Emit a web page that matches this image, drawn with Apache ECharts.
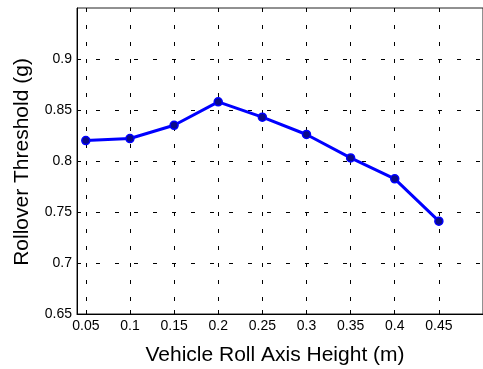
<!DOCTYPE html>
<html><head><meta charset="utf-8">
<script src="https://cdn.jsdelivr.net/npm/echarts@6/dist/echarts.min.js"></script>
<style>html,body{margin:0;padding:0;background:#fff}#c{width:483px;height:369px}</style>
</head><body><div id="c"></div>
<script>
const heights = [0.05, 0.10, 0.15, 0.20, 0.25, 0.30, 0.35, 0.40, 0.45];
const threshold = [0.820, 0.822, 0.835, 0.858, 0.843, 0.826, 0.803, 0.7825, 0.741];
const yTicks = [0.65, 0.70, 0.75, 0.80, 0.85, 0.90];
const xLabel = 'Vehicle Roll Axis Height (m)';
const yLabel = 'Rollover Threshold (g)';

const chart = echarts.init(document.getElementById('c'), null, {renderer: 'canvas'});
const font = 'Liberation Sans, Arial, sans-serif';
const fmt = v => (Math.round(v * 100) / 100).toString();
chart.setOption({
  animation: false,
  backgroundColor: '#fff',
  grid: {left: 77, top: 8, width: 410, height: 306, show: true, borderColor: '#222', borderWidth: 1},
  xAxis: {
    type: 'value', min: 0.04, max: 0.5,
    axisLine: {show: true, onZero: false, lineStyle: {color: '#000', width: 1}},
    axisTick: {show: true, inside: true, length: 4, customValues: heights, lineStyle: {color: '#000'}},
    axisLabel: {color: '#000', fontFamily: font, fontSize: 14, margin: 5, customValues: heights, formatter: fmt},
    splitLine: {show: true, lineStyle: {color: '#000', type: [4, 13], width: 1}}
  },
  yAxis: {
    type: 'value', min: 0.65, max: 0.95,
    axisLine: {show: true, lineStyle: {color: '#000', width: 1}},
    axisTick: {show: true, inside: true, length: 4, customValues: yTicks, lineStyle: {color: '#000'}},
    axisLabel: {color: '#000', fontFamily: font, fontSize: 14, margin: 5, customValues: yTicks, formatter: fmt},
    splitLine: {show: true, lineStyle: {color: '#000', type: [4, 15], width: 1}}
  },
  graphic: [
    {type: 'text', x: 275, y: 355, style: {text: xLabel, font: '21px ' + font, fill: '#000', align: 'center', verticalAlign: 'middle'}},
    {type: 'text', x: 22, y: 162, rotation: Math.PI / 2, style: {text: yLabel, font: '21px ' + font, fill: '#000', align: 'center', verticalAlign: 'middle'}}
  ],
  series: [{
    type: 'line',
    data: heights.map((h, i) => [h, threshold[i]]),
    lineStyle: {color: '#0000ff', width: 3},
    itemStyle: {color: '#0a0a8a', borderColor: '#0000ff', borderWidth: 1.5},
    symbol: 'circle', symbolSize: 8,
    z: 5
  }]
});
</script></body></html>
